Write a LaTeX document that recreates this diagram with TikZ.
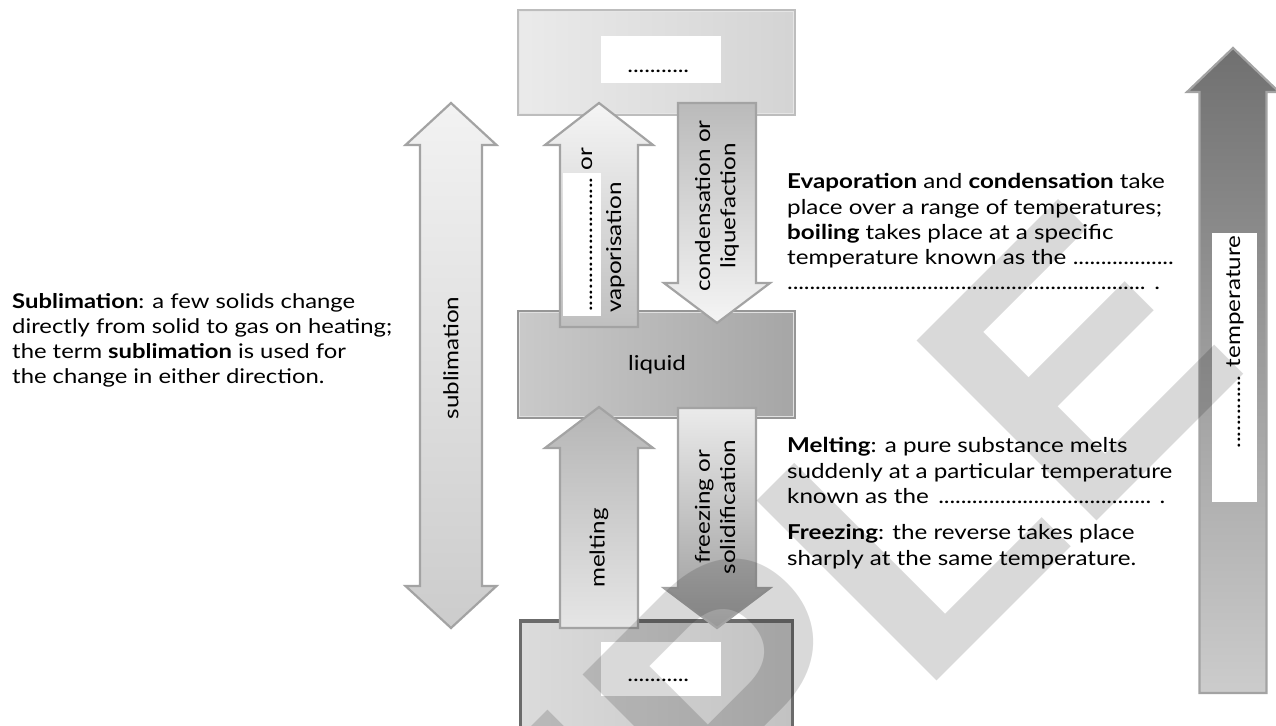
\documentclass[tikz,border=0pt]{standalone}
\usepackage{fontspec}
\setmainfont{Lato}[FakeStretch=1.18]
\newfontfamily\markfont{Liberation Sans}
\usetikzlibrary{calc}

\definecolor{edgegray}{HTML}{A3A3A3}
\definecolor{gasedge}{HTML}{BDBDBD}
\definecolor{liqedge}{HTML}{969696}
\definecolor{soledge}{HTML}{6B6B6B}

% a run of leader dots of the given length
\newcommand\dotrun[1]{\hbox to #1{\leaders\hbox to 5.6pt{\hss.\hss}\hfill}}
% vertical block arrow: style, centre x, tip y, head-base y, tail y, shaft half width, head half width
\newcommand\blockarrow[7]{%
  \path[#1] (#2-#6,#5) -- (#2-#6,#4) -- (#2-#7,#4) -- (#2,#3) -- (#2+#7,#4)
    -- (#2+#6,#4) -- (#2+#6,#5) -- cycle;}

\begin{document}
\begin{tikzpicture}[x=1pt,y=-1pt,
  every node/.style={inner sep=0pt, font=\fontsize{20.5}{25.2}\selectfont},
  arrowbody/.style={draw=edgegray, line width=2.2pt, line join=miter},
  statebox/.style={rectangle, line width=2.2pt},
  blank/.style={fill=white, draw=none},
  side/.style={rotate=90, align=center},
  note/.style={anchor=north west, align=left}]

\useasboundingbox (0,0) rectangle (1276,725);

% ---- the three states ----
\node[statebox, minimum width=277pt, minimum height=105pt, draw=gasedge, left color=black!8, right color=black!17] (gas) at (656.5,62.5) {};
\draw[white!90!black, line width=1.6pt] ($(gas.north west)+(2.6,2.6)$) rectangle ($(gas.south east)+(-2.6,-2.6)$);

\node[statebox, minimum width=277pt, minimum height=107pt, draw=liqedge, left color=black!21, right color=black!35] (liq) at (656.5,364.5) {};
\draw[black!12, line width=1.6pt] ($(liq.north west)+(2.6,2.6)$) rectangle ($(liq.south east)+(-2.6,-2.6)$);

\node[statebox, minimum width=272pt, minimum height=120pt, draw=soledge, line width=3.5pt, left color=black!14, right color=black!24] (sol) at (656.5,681) {};

% ---- sublimation (both ways) ----
\path[arrowbody, top color=black!5, bottom color=black!20]
  (451,103) -- (496.5,145) -- (482,145) -- (482,586) -- (496.5,586) -- (451,628)
  -- (405.5,586) -- (420,586) -- (420,145) -- (405.5,145) -- cycle;

% ---- liquid <-> gas ----
\blockarrow{arrowbody, top color=black!4, bottom color=black!25}{599}{103}{145}{327}{39}{54}
\blockarrow{arrowbody, top color=black!27, bottom color=black!4}{717}{323}{283}{103}{39}{53}

% ---- solid <-> liquid ----
\blockarrow{arrowbody, top color=black!29, bottom color=black!10}{599}{407}{448}{628}{39}{54}
\blockarrow{arrowbody, top color=black!8, bottom color=black!40}{717}{628}{588}{408}{39}{53}

% ---- temperature scale ----
\blockarrow{arrowbody, top color=black!56, bottom color=black!20}{1233}{48}{92}{693}{33.5}{46}

% ---- blanks to fill in ----
\node[blank, minimum width=120pt, minimum height=47pt] (gasblank) at (661,59.5) {};
\node[anchor=base] (gasdots) at (661,73) {\dotrun{67pt}};
\node[blank, minimum width=120pt, minimum height=54pt] (solblank) at (661,669) {};
\node[anchor=base] (soldots) at (661,681) {\dotrun{67pt}};
\node[blank, minimum width=38pt, minimum height=143pt] (vapblank) at (582,244.5) {};
\node[blank, minimum width=45pt, minimum height=269pt] (tempblank) at (1234.5,367.5) {};

% ---- labels on the arrows ----
\node[side] (subl) at (451,358) {sublimation};
\node[rotate=90, anchor=base west] (vapA) at (592,312) {\dotrun{135pt} or};
\node[rotate=90, anchor=base west] (vapB) at (621,313) {vaporisation};
\node[side] (cond) at (717,206) {condensation or\\liquefaction};
\node[side] (melt) at (599,548) {melting};
\node[side] (freez) at (715,507) {freezing or\\solidification};
\node (liqname) at (657,365) {liquid};
\node[side] (temp) at (1235,342) {\dotrun{75pt} temperature};

% ---- explanatory notes ----
\node[note, font=\fontsize{20.2}{25}\selectfont] (subnote) at (12,293.5) {\textbf{Sublimation}: a few solids change\\
directly from solid to gas on heating;\\
the term \textbf{sublimation} is used for\\
the change in either direction.};

\node[note] (evapnote) at (787,173.5) {\textbf{Evaporation} and \textbf{condensation} take\\
place over a range of temperatures;\\
\textbf{boiling} takes place at a specific\\
\hbox to 388pt{temperature known as the \leaders\hbox to 5.6pt{\hss.\hss}\hfill}\\
\hbox to 373pt{\leaders\hbox to 5.6pt{\hss.\hss}\hfill\ .}};

\node[note] (meltnote) at (787,437.5) {\textbf{Melting}: a pure substance melts\\
suddenly at a particular temperature\\
\hbox to 378pt{known as the \leaders\hbox to 5.6pt{\hss.\hss}\hfill\ .}};

\node[note] (freeznote) at (787,524.5) {\textbf{Freezing}: the reverse takes place\\
sharply at the same temperature.};

% ---- watermark ----
\begin{scope}
\clip (0,0) rectangle (1276,725);
\node[rotate=45, anchor=base west, text=black, text opacity=0.15,
      font=\markfont\bfseries\fontsize{370}{370}\selectfont] (mark) at (164,1454) {SAMPLE};
\end{scope}
\end{tikzpicture}
\end{document}
